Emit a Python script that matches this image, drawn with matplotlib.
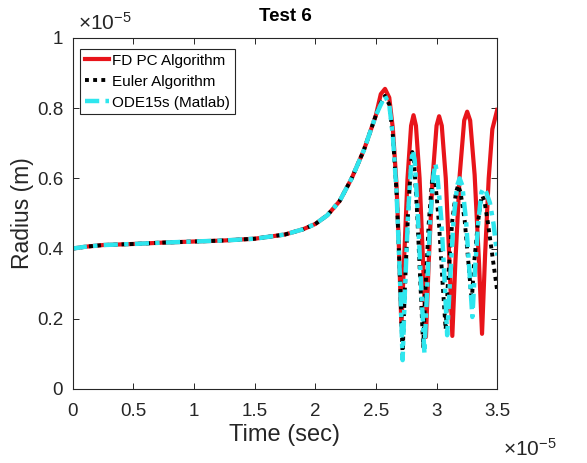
import numpy as np
import matplotlib
matplotlib.use('Agg')
import matplotlib.pyplot as plt

plt.rcParams['font.family'] = ['Liberation Sans', 'DejaVu Sans']
plt.rcParams['mathtext.default'] = 'regular'

# values, time and radius both in units of 1e-5
t_early = [0, 0.1, 0.25, 0.5, 0.75, 1.0, 1.25, 1.5, 1.75, 1.9, 2.0, 2.1, 2.2, 2.3, 2.4, 2.5]
r_early = [0.400, 0.405, 0.410, 0.413, 0.417, 0.420, 0.423, 0.428, 0.440, 0.455, 0.470,
           0.495, 0.535, 0.600, 0.680, 0.780]

# FD PC algorithm (red) after t = 2.5
t_fdpc = [2.54, 2.575, 2.61, 2.64, 2.67, 2.69, 2.71,
          2.73, 2.76, 2.79, 2.81, 2.83, 2.86, 2.89, 2.9125,
          2.934, 2.967, 3.0, 3.021, 3.043, 3.076, 3.108, 3.13,
          3.155, 3.191, 3.228, 3.2525, 3.277, 3.314, 3.35, 3.375,
          3.40, 3.43, 3.46, 3.5]
r_fdpc = [0.84, 0.855, 0.83, 0.74, 0.58, 0.40, 0.18,
          0.35, 0.597, 0.75, 0.78, 0.75, 0.60, 0.35, 0.148,
          0.35, 0.60, 0.75, 0.777, 0.75, 0.60, 0.35, 0.151,
          0.36, 0.61, 0.765, 0.79, 0.765, 0.61, 0.36, 0.157,
          0.38, 0.60, 0.74, 0.795]

# Euler algorithm (black dotted)
t_euler = [2.54, 2.575, 2.61, 2.64, 2.67, 2.70, 2.72,
           2.738, 2.765, 2.79, 2.80, 2.815, 2.84, 2.868, 2.89,
           2.908, 2.935, 2.962, 2.975, 2.99, 3.02, 3.05, 3.075,
           3.096, 3.13, 3.16, 3.178, 3.198, 3.232, 3.265, 3.29,
           3.31, 3.34, 3.365, 3.378, 3.395, 3.425, 3.46, 3.5]
r_euler = [0.815, 0.835, 0.81, 0.72, 0.56, 0.30, 0.095,
           0.28, 0.50, 0.645, 0.675, 0.645, 0.50, 0.29, 0.12,
           0.28, 0.47, 0.59, 0.62, 0.59, 0.47, 0.30, 0.17,
           0.32, 0.48, 0.56, 0.58, 0.56, 0.48, 0.35, 0.25,
           0.36, 0.47, 0.535, 0.55, 0.535, 0.47, 0.38, 0.28]

# ODE15s (cyan dash-dot)
t_ode = [2.54, 2.575, 2.61, 2.64, 2.67, 2.70, 2.72,
         2.738, 2.765, 2.792, 2.805, 2.82, 2.845, 2.875, 2.90,
         2.919, 2.947, 2.975, 2.99, 3.006, 3.04, 3.069, 3.0875,
         3.108, 3.14, 3.17, 3.19, 3.212, 3.243, 3.274, 3.295,
         3.315, 3.345, 3.37, 3.3875, 3.41, 3.44, 3.47, 3.5]
r_ode = [0.81, 0.835, 0.81, 0.72, 0.56, 0.30, 0.082,
         0.27, 0.50, 0.65, 0.68, 0.65, 0.50, 0.28, 0.10,
         0.26, 0.48, 0.61, 0.642, 0.61, 0.48, 0.29, 0.153,
         0.29, 0.48, 0.58, 0.60, 0.58, 0.48, 0.32, 0.205,
         0.33, 0.48, 0.56, 0.572, 0.56, 0.53, 0.47, 0.38]

x_ticks = [0, 0.5, 1, 1.5, 2, 2.5, 3, 3.5]
x_ticklabels = ['0', '0.5', '1', '1.5', '2', '2.5', '3', '3.5']
y_ticks = [0, 0.2, 0.4, 0.6, 0.8, 1]
y_ticklabels = ['0', '0.2', '0.4', '0.6', '0.8', '1']

txt = '#262626'

fig = plt.figure(figsize=(5.87, 4.63), dpi=100)
ax = fig.add_axes([0.124, 0.16, 0.723, 0.758])

ax.plot(t_early + t_fdpc, r_early + r_fdpc, color='#e8141a', lw=3, label='FD PC Algorithm')
ax.plot(t_early + t_euler, r_early + r_euler, color='black', lw=2.8, ls=(0, (1, 1.1)),
        label='Euler Algorithm')
ax.plot(t_early + t_ode, r_early + r_ode, color='#2ee6ee', lw=3.2, ls=(0, (3.2, 1.4, 1, 1.4)),
        label='ODE15s (Matlab)')

ax.set_xlim(0, 3.5)
ax.set_ylim(0, 1)
ax.set_xticks(x_ticks)
ax.set_xticklabels(x_ticklabels)
ax.set_yticks(y_ticks)
ax.set_yticklabels(y_ticklabels)
ax.tick_params(direction='in', top=True, right=True, length=4, width=0.7,
               colors=txt, labelsize=13.5)
ax.tick_params(axis='x', pad=10)
ax.tick_params(axis='y', pad=7)
for s in ax.spines.values():
    s.set_color(txt)
    s.set_linewidth(0.8)

ax.set_xlabel('Time (sec)', fontsize=17, color=txt, labelpad=3)
ax.set_ylabel('Radius (m)', fontsize=16.5, color=txt, labelpad=2)
ax.set_title('Test 6', fontsize=13.5, fontweight='bold', color='black', pad=12)

ax.text(0.012, 1.012, r'$\times10^{-5}$', transform=ax.transAxes, fontsize=15,
        color=txt, ha='left', va='bottom')
ax.text(1.014, -0.14, r'$\times10^{-5}$', transform=ax.transAxes, fontsize=15,
        color=txt, ha='left', va='top')

leg = ax.legend(loc='upper left', bbox_to_anchor=(0.017, 0.968), borderaxespad=0,
                fontsize=11, handlelength=1.6, handletextpad=0.2, labelspacing=0.45,
                borderpad=0.3, fancybox=False, framealpha=1)
leg.get_frame().set_edgecolor(txt)
leg.get_frame().set_linewidth(0.8)

fig.savefig('out.png', dpi=100)
